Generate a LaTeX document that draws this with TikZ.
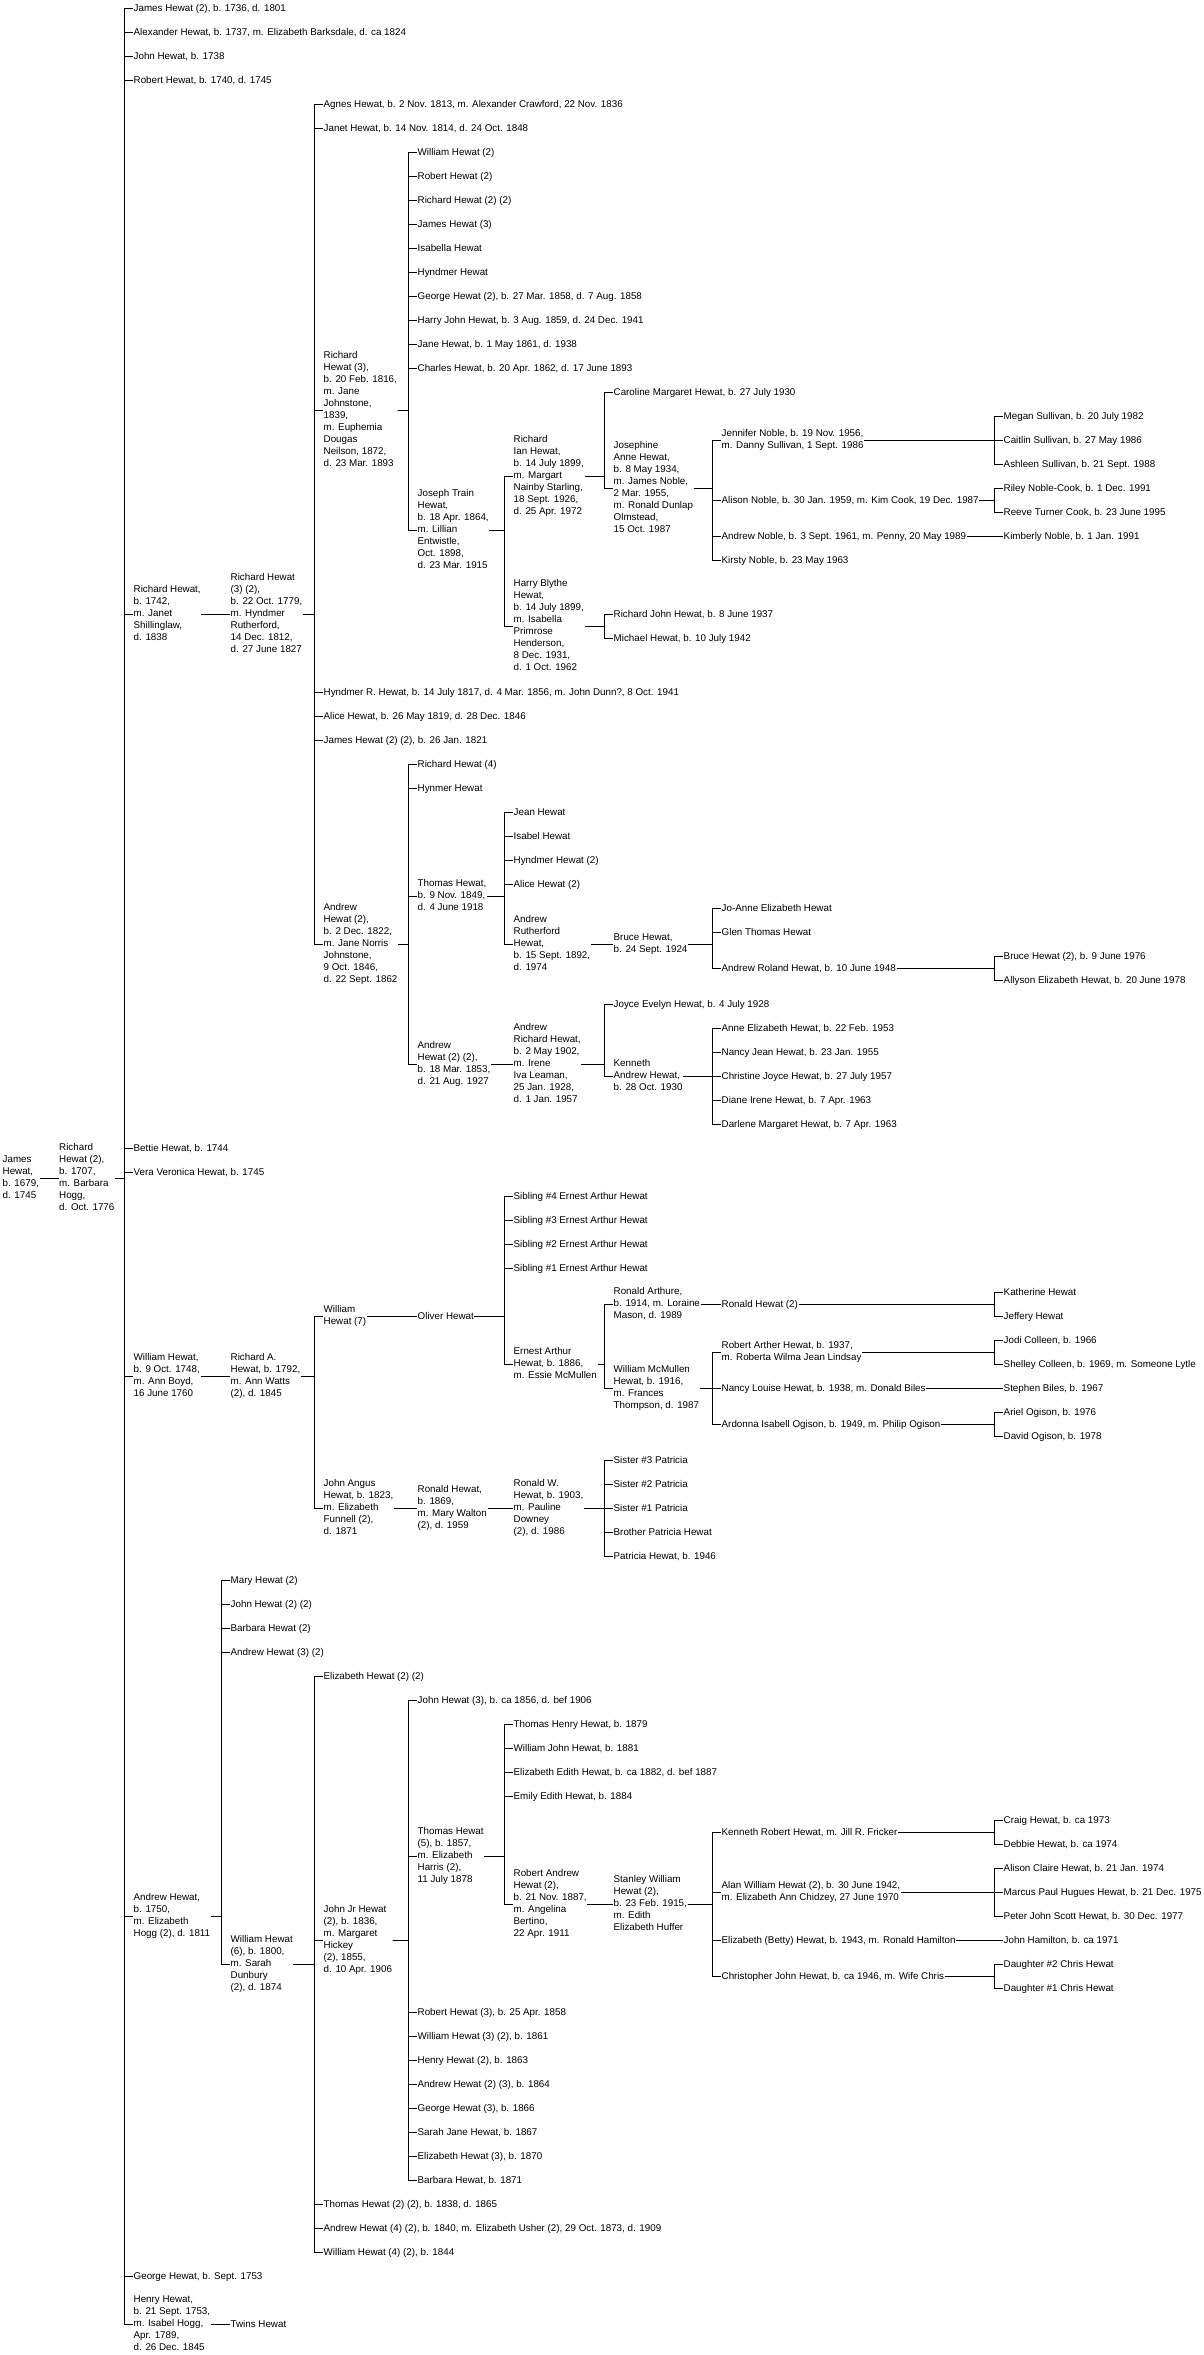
\documentclass[tikz,border=0pt]{standalone}
\usepackage{fontspec}
\setmainfont{Liberation Sans}
\tikzset{
  person/.style={
    anchor=west,
    align=left,
    inner xsep=.5pt,
    inner ysep=0pt,
    font=\fontsize{9.8}{12}\selectfont,
    execute at begin node=\strut,
    execute at end node=\strut
  },
  link/.style={draw=black,line width=1pt}
}
\begin{document}
\begin{tikzpicture}[x=1pt,y=-1pt]
  \useasboundingbox (0,0) rectangle (1203,2355);

  % Founders on the far left.
  \node[person] (james)    at (2,1178.7)    {James\\Hewat,\\b. 1679,\\d. 1745};
  \node[person] (richard2) at (58.5,1178.7) {Richard\\Hewat (2),\\b. 1707,\\m. Barbara\\Hogg,\\d. Oct. 1776};
  \draw[link] (james.east) -| ([xshift=-9pt]richard2.west) -- (richard2.west);

  % Their children.
  \node[person] (jh2)      at (133,8.7)    {James Hewat (2), b. 1736, d. 1801};
  \node[person] (alex)     at (133,32.7)   {Alexander Hewat, b. 1737, m. Elizabeth Barksdale, d. ca 1824};
  \node[person] (johnC)    at (133,56.7)   {John Hewat, b. 1738};
  \node[person] (robC)     at (133,80.7)   {Robert Hewat, b. 1740, d. 1745};
  \node[person] (rich1742) at (133,614.7)  {Richard Hewat,\\b. 1742,\\m. Janet\\Shillinglaw,\\d. 1838};
  \node[person] (bettie)   at (133,1148.7) {Bettie Hewat, b. 1744};
  \node[person] (vera)     at (133,1172.7) {Vera Veronica Hewat, b. 1745};
  \node[person] (will1748) at (133,1376.7) {William Hewat,\\b. 9 Oct. 1748,\\m. Ann Boyd,\\16 June 1760};
  \node[person] (and1750)  at (133,1916.7) {Andrew Hewat,\\b. 1750,\\m. Elizabeth\\Hogg (2), d. 1811};
  \node[person] (georgeC)  at (133,2276.7) {George Hewat, b. Sept. 1753};
  \node[person] (henry)    at (133,2324.7) {Henry Hewat,\\b. 21 Sept. 1753,\\m. Isabel Hogg,\\Apr. 1789,\\d. 26 Dec. 1845};
  \foreach \k in {jh2,alex,johnC,robC,rich1742,bettie,vera,will1748,and1750,georgeC,henry}
    \draw[link] (richard2.east) -| ([xshift=-9pt]\k.west) -- (\k.west);

  \node[person] (twins) at (230,2324.7) {Twins Hewat};
  \draw[link] (henry.east) -| ([xshift=-9pt]twins.west) -- (twins.west);

  % Line of Richard Hewat, b. 1742.
  \node[person] (rich32) at (230,614.7) {Richard Hewat\\(3) (2),\\b. 22 Oct. 1779,\\m. Hyndmer\\Rutherford,\\14 Dec. 1812,\\d. 27 June 1827};
  \draw[link] (rich1742.east) -| ([xshift=-9pt]rich32.west) -- (rich32.west);

  \node[person] (agnes)  at (323,104.7) {Agnes Hewat, b. 2 Nov. 1813, m. Alexander Crawford, 22 Nov. 1836};
  \node[person] (janet)  at (323,128.7) {Janet Hewat, b. 14 Nov. 1814, d. 24 Oct. 1848};
  \node[person] (rich3)  at (323,410.7) {Richard\\Hewat (3),\\b. 20 Feb. 1816,\\m. Jane\\Johnstone,\\1839,\\m. Euphemia\\Dougas\\Neilson, 1872,\\d. 23 Mar. 1893};
  \node[person] (hyndR)  at (323,692.7) {Hyndmer R. Hewat, b. 14 July 1817, d. 4 Mar. 1856, m. John Dunn?, 8 Oct. 1941};
  \node[person] (alice)  at (323,716.7) {Alice Hewat, b. 26 May 1819, d. 28 Dec. 1846};
  \node[person] (jamesE) at (323,740.7) {James Hewat (2) (2), b. 26 Jan. 1821};
  \node[person] (and2)   at (323,944.7) {Andrew\\Hewat (2),\\b. 2 Dec. 1822,\\m. Jane Norris\\Johnstone,\\9 Oct. 1846,\\d. 22 Sept. 1862};
  \foreach \k in {agnes,janet,rich3,hyndR,alice,jamesE,and2}
    \draw[link] (rich32.east) -| ([xshift=-9pt]\k.west) -- (\k.west);

  \node[person] (willF)   at (417,152.7) {William Hewat (2)};
  \node[person] (robF)    at (417,176.7) {Robert Hewat (2)};
  \node[person] (richF)   at (417,200.7) {Richard Hewat (2) (2)};
  \node[person] (jamesF)  at (417,224.7) {James Hewat (3)};
  \node[person] (isab)    at (417,248.7) {Isabella Hewat};
  \node[person] (hyndF)   at (417,272.7) {Hyndmer Hewat};
  \node[person] (georgeF) at (417,296.7) {George Hewat (2), b. 27 Mar. 1858, d. 7 Aug. 1858};
  \node[person] (harryF)  at (417,320.7) {Harry John Hewat, b. 3 Aug. 1859, d. 24 Dec. 1941};
  \node[person] (janeF)   at (417,344.7) {Jane Hewat, b. 1 May 1861, d. 1938};
  \node[person] (charles) at (417,368.7) {Charles Hewat, b. 20 Apr. 1862, d. 17 June 1893};
  \node[person] (joseph)  at (417,530.7) {Joseph Train\\Hewat,\\b. 18 Apr. 1864,\\m. Lillian\\Entwistle,\\Oct. 1898,\\d. 23 Mar. 1915};
  \foreach \k in {willF,robF,richF,jamesF,isab,hyndF,georgeF,harryF,janeF,charles,joseph}
    \draw[link] (rich3.east) -| ([xshift=-9pt]\k.west) -- (\k.west);

  \node[person] (richIan) at (513,476.7) {Richard\\Ian Hewat,\\b. 14 July 1899,\\m. Margart\\Nainby Starling,\\18 Sept. 1926,\\d. 25 Apr. 1972};
  \node[person] (harry)   at (513,626.7) {Harry Blythe\\Hewat,\\b. 14 July 1899,\\m. Isabella\\Primrose\\Henderson,\\8 Dec. 1931,\\d. 1 Oct. 1962};
  \foreach \k in {richIan,harry}
    \draw[link] (joseph.east) -| ([xshift=-9pt]\k.west) -- (\k.west);

  \node[person] (caroline)  at (613,392.7) {Caroline Margaret Hewat, b. 27 July 1930};
  \node[person] (josephine) at (613,488.7) {Josephine\\Anne Hewat,\\b. 8 May 1934,\\m. James Noble,\\2 Mar. 1955,\\m. Ronald Dunlap\\Olmstead,\\15 Oct. 1987};
  \foreach \k in {caroline,josephine}
    \draw[link] (richIan.east) -| ([xshift=-9pt]\k.west) -- (\k.west);

  \node[person] (jennifer) at (721,440.7) {Jennifer Noble, b. 19 Nov. 1956,\\m. Danny Sullivan, 1 Sept. 1986};
  \node[person] (alison)   at (721,500.7) {Alison Noble, b. 30 Jan. 1959, m. Kim Cook, 19 Dec. 1987};
  \node[person] (andNob)   at (721,536.7) {Andrew Noble, b. 3 Sept. 1961, m. Penny, 20 May 1989};
  \node[person] (kirsty)   at (721,560.7) {Kirsty Noble, b. 23 May 1963};
  \foreach \k in {jennifer,alison,andNob,kirsty}
    \draw[link] (josephine.east) -| ([xshift=-9pt]\k.west) -- (\k.west);

  \node[person] (megan)    at (1003,416.7) {Megan Sullivan, b. 20 July 1982};
  \node[person] (caitlin)  at (1003,440.7) {Caitlin Sullivan, b. 27 May 1986};
  \node[person] (ashleen)  at (1003,464.7) {Ashleen Sullivan, b. 21 Sept. 1988};
  \node[person] (riley)    at (1003,488.7) {Riley Noble-Cook, b. 1 Dec. 1991};
  \node[person] (reeve)    at (1003,512.7) {Reeve Turner Cook, b. 23 June 1995};
  \node[person] (kimberly) at (1003,536.7) {Kimberly Noble, b. 1 Jan. 1991};
  \foreach \k in {megan,caitlin,ashleen}
    \draw[link] (jennifer.east) -| ([xshift=-9pt]\k.west) -- (\k.west);
  \foreach \k in {riley,reeve}
    \draw[link] (alison.east) -| ([xshift=-9pt]\k.west) -- (\k.west);
  \draw[link] (andNob.east) -| ([xshift=-9pt]kimberly.west) -- (kimberly.west);

  \node[person] (richJ)   at (613,614.7) {Richard John Hewat, b. 8 June 1937};
  \node[person] (michael) at (613,638.7) {Michael Hewat, b. 10 July 1942};
  \foreach \k in {richJ,michael}
    \draw[link] (harry.east) -| ([xshift=-9pt]\k.west) -- (\k.west);

  % Line of Andrew Hewat (2).
  \node[person] (rich4)  at (417,764.7)  {Richard Hewat (4)};
  \node[person] (hynmer) at (417,788.7)  {Hynmer Hewat};
  \node[person] (thomas) at (417,896.7)  {Thomas Hewat,\\b. 9 Nov. 1849,\\d. 4 June 1918};
  \node[person] (and22)  at (417,1064.7) {Andrew\\Hewat (2) (2),\\b. 18 Mar. 1853,\\d. 21 Aug. 1927};
  \foreach \k in {rich4,hynmer,thomas,and22}
    \draw[link] (and2.east) -| ([xshift=-9pt]\k.west) -- (\k.west);

  \node[person] (jean)    at (513,812.7) {Jean Hewat};
  \node[person] (isabel)  at (513,836.7) {Isabel Hewat};
  \node[person] (hyndG)   at (513,860.7) {Hyndmer Hewat (2)};
  \node[person] (aliceG)  at (513,884.7) {Alice Hewat (2)};
  \node[person] (andRuth) at (513,944.7) {Andrew\\Rutherford\\Hewat,\\b. 15 Sept. 1892,\\d. 1974};
  \foreach \k in {jean,isabel,hyndG,aliceG,andRuth}
    \draw[link] (thomas.east) -| ([xshift=-9pt]\k.west) -- (\k.west);

  \node[person] (bruce) at (613,944.7) {Bruce Hewat,\\b. 24 Sept. 1924};
  \draw[link] (andRuth.east) -| ([xshift=-9pt]bruce.west) -- (bruce.west);

  \node[person] (joanne) at (721,908.7) {Jo-Anne Elizabeth Hewat};
  \node[person] (glen)   at (721,932.7) {Glen Thomas Hewat};
  \node[person] (andRol) at (721,968.7) {Andrew Roland Hewat, b. 10 June 1948};
  \foreach \k in {joanne,glen,andRol}
    \draw[link] (bruce.east) -| ([xshift=-9pt]\k.west) -- (\k.west);

  \node[person] (bruce2)  at (1003,956.7) {Bruce Hewat (2), b. 9 June 1976};
  \node[person] (allyson) at (1003,980.7) {Allyson Elizabeth Hewat, b. 20 June 1978};
  \foreach \k in {bruce2,allyson}
    \draw[link] (andRol.east) -| ([xshift=-9pt]\k.west) -- (\k.west);

  \node[person] (andRich) at (513,1064.7) {Andrew\\Richard Hewat,\\b. 2 May 1902,\\m. Irene\\Iva Leaman,\\25 Jan. 1928,\\d. 1 Jan. 1957};
  \draw[link] (and22.east) -| ([xshift=-9pt]andRich.west) -- (andRich.west);

  \node[person] (joyce)   at (613,1004.7) {Joyce Evelyn Hewat, b. 4 July 1928};
  \node[person] (kenneth) at (613,1076.7) {Kenneth\\Andrew Hewat,\\b. 28 Oct. 1930};
  \foreach \k in {joyce,kenneth}
    \draw[link] (andRich.east) -| ([xshift=-9pt]\k.west) -- (\k.west);

  \node[person] (anneE)     at (721,1028.7) {Anne Elizabeth Hewat, b. 22 Feb. 1953};
  \node[person] (nancyJ)    at (721,1052.7) {Nancy Jean Hewat, b. 23 Jan. 1955};
  \node[person] (christine) at (721,1076.7) {Christine Joyce Hewat, b. 27 July 1957};
  \node[person] (diane)     at (721,1100.7) {Diane Irene Hewat, b. 7 Apr. 1963};
  \node[person] (darlene)   at (721,1124.7) {Darlene Margaret Hewat, b. 7 Apr. 1963};
  \foreach \k in {anneE,nancyJ,christine,diane,darlene}
    \draw[link] (kenneth.east) -| ([xshift=-9pt]\k.west) -- (\k.west);

  % Line of William Hewat, b. 1748.
  \node[person] (richA) at (230,1376.7) {Richard A.\\Hewat, b. 1792,\\m. Ann Watts\\(2), d. 1845};
  \draw[link] (will1748.east) -| ([xshift=-9pt]richA.west) -- (richA.west);

  \node[person] (will7)  at (323,1316.7) {William\\Hewat (7)};
  \node[person] (jangus) at (323,1508.7) {John Angus\\Hewat, b. 1823,\\m. Elizabeth\\Funnell (2),\\d. 1871};
  \foreach \k in {will7,jangus}
    \draw[link] (richA.east) -| ([xshift=-9pt]\k.west) -- (\k.west);

  \node[person] (oliver) at (417,1316.7) {Oliver Hewat};
  \draw[link] (will7.east) -| ([xshift=-9pt]oliver.west) -- (oliver.west);

  \node[person] (sib4)   at (513,1196.7) {Sibling \#4 Ernest Arthur Hewat};
  \node[person] (sib3)   at (513,1220.7) {Sibling \#3 Ernest Arthur Hewat};
  \node[person] (sib2)   at (513,1244.7) {Sibling \#2 Ernest Arthur Hewat};
  \node[person] (sib1)   at (513,1268.7) {Sibling \#1 Ernest Arthur Hewat};
  \node[person] (ernest) at (513,1364.7) {Ernest Arthur\\Hewat, b. 1886,\\m. Essie McMullen};
  \foreach \k in {sib4,sib3,sib2,sib1,ernest}
    \draw[link] (oliver.east) -| ([xshift=-9pt]\k.west) -- (\k.west);

  \node[person] (ronArt) at (613,1304.7) {Ronald Arthure,\\b. 1914, m. Loraine\\Mason, d. 1989};
  \node[person] (willMc) at (613,1388.7) {William McMullen\\Hewat, b. 1916,\\m. Frances\\Thompson, d. 1987};
  \foreach \k in {ronArt,willMc}
    \draw[link] (ernest.east) -| ([xshift=-9pt]\k.west) -- (\k.west);

  \node[person] (ronald2) at (721,1304.7) {Ronald Hewat (2)};
  \draw[link] (ronArt.east) -| ([xshift=-9pt]ronald2.west) -- (ronald2.west);
  \node[person] (katherine) at (1003,1292.7) {Katherine Hewat};
  \node[person] (jeffery)   at (1003,1316.7) {Jeffery Hewat};
  \foreach \k in {katherine,jeffery}
    \draw[link] (ronald2.east) -| ([xshift=-9pt]\k.west) -- (\k.west);

  \node[person] (robArt)  at (721,1352.7) {Robert Arther Hewat, b. 1937,\\m. Roberta Wilma Jean Lindsay};
  \node[person] (nancyL)  at (721,1388.7) {Nancy Louise Hewat, b. 1938, m. Donald Biles};
  \node[person] (ardonna) at (721,1424.7) {Ardonna Isabell Ogison, b. 1949, m. Philip Ogison};
  \foreach \k in {robArt,nancyL,ardonna}
    \draw[link] (willMc.east) -| ([xshift=-9pt]\k.west) -- (\k.west);

  \node[person] (jodi)    at (1003,1340.7) {Jodi Colleen, b. 1966};
  \node[person] (shelley) at (1003,1364.7) {Shelley Colleen, b. 1969, m. Someone Lytle};
  \node[person] (stephen) at (1003,1388.7) {Stephen Biles, b. 1967};
  \node[person] (ariel)   at (1003,1412.7) {Ariel Ogison, b. 1976};
  \node[person] (david)   at (1003,1436.7) {David Ogison, b. 1978};
  \foreach \k in {jodi,shelley}
    \draw[link] (robArt.east) -| ([xshift=-9pt]\k.west) -- (\k.west);
  \draw[link] (nancyL.east) -| ([xshift=-9pt]stephen.west) -- (stephen.west);
  \foreach \k in {ariel,david}
    \draw[link] (ardonna.east) -| ([xshift=-9pt]\k.west) -- (\k.west);

  \node[person] (ronald)  at (417,1508.7) {Ronald Hewat,\\b. 1869,\\m. Mary Walton\\(2), d. 1959};
  \node[person] (ronaldW) at (513,1508.7) {Ronald W.\\Hewat, b. 1903,\\m. Pauline\\Downey\\(2), d. 1986};
  \draw[link] (jangus.east) -| ([xshift=-9pt]ronald.west) -- (ronald.west);
  \draw[link] (ronald.east) -| ([xshift=-9pt]ronaldW.west) -- (ronaldW.west);

  \node[person] (sis3)      at (613,1460.7) {Sister \#3 Patricia};
  \node[person] (sis2)      at (613,1484.7) {Sister \#2 Patricia};
  \node[person] (sis1)      at (613,1508.7) {Sister \#1 Patricia};
  \node[person] (brother)   at (613,1532.7) {Brother Patricia Hewat};
  \node[person] (patricia)  at (613,1556.7) {Patricia Hewat, b. 1946};
  \foreach \k in {sis3,sis2,sis1,brother,patricia}
    \draw[link] (ronaldW.east) -| ([xshift=-9pt]\k.west) -- (\k.west);

  % Line of Andrew Hewat, b. 1750.
  \node[person] (maryD) at (230,1580.7) {Mary Hewat (2)};
  \node[person] (johnD) at (230,1604.7) {John Hewat (2) (2)};
  \node[person] (barbD) at (230,1628.7) {Barbara Hewat (2)};
  \node[person] (andD)  at (230,1652.7) {Andrew Hewat (3) (2)};
  \node[person] (will6) at (230,1964.7) {William Hewat\\(6), b. 1800,\\m. Sarah\\Dunbury\\(2), d. 1874};
  \foreach \k in {maryD,johnD,barbD,andD,will6}
    \draw[link] (and1750.east) -| ([xshift=-9pt]\k.west) -- (\k.west);

  \node[person] (elizE)  at (323,1676.7) {Elizabeth Hewat (2) (2)};
  \node[person] (johnJr) at (323,1940.7) {John Jr Hewat\\(2), b. 1836,\\m. Margaret\\Hickey\\(2), 1855,\\d. 10 Apr. 1906};
  \node[person] (thomE)  at (323,2204.7) {Thomas Hewat (2) (2), b. 1838, d. 1865};
  \node[person] (andE)   at (323,2228.7) {Andrew Hewat (4) (2), b. 1840, m. Elizabeth Usher (2), 29 Oct. 1873, d. 1909};
  \node[person] (willE)  at (323,2252.7) {William Hewat (4) (2), b. 1844};
  \foreach \k in {elizE,johnJr,thomE,andE,willE}
    \draw[link] (will6.east) -| ([xshift=-9pt]\k.west) -- (\k.west);

  \node[person] (johnF)    at (417,1700.7) {John Hewat (3), b. ca 1856, d. bef 1906};
  \node[person] (thom5)    at (417,1856.7) {Thomas Hewat\\(5), b. 1857,\\m. Elizabeth\\Harris (2),\\11 July 1878};
  \node[person] (robF3)    at (417,2012.7) {Robert Hewat (3), b. 25 Apr. 1858};
  \node[person] (willF3)   at (417,2036.7) {William Hewat (3) (2), b. 1861};
  \node[person] (henF)     at (417,2060.7) {Henry Hewat (2), b. 1863};
  \node[person] (andF)     at (417,2084.7) {Andrew Hewat (2) (3), b. 1864};
  \node[person] (georgeF3) at (417,2108.7) {George Hewat (3), b. 1866};
  \node[person] (sarah)    at (417,2132.7) {Sarah Jane Hewat, b. 1867};
  \node[person] (elizF)    at (417,2156.7) {Elizabeth Hewat (3), b. 1870};
  \node[person] (barbF)    at (417,2180.7) {Barbara Hewat, b. 1871};
  \foreach \k in {johnF,thom5,robF3,willF3,henF,andF,georgeF3,sarah,elizF,barbF}
    \draw[link] (johnJr.east) -| ([xshift=-9pt]\k.west) -- (\k.west);

  \node[person] (thomH)  at (513,1724.7) {Thomas Henry Hewat, b. 1879};
  \node[person] (willJ)  at (513,1748.7) {William John Hewat, b. 1881};
  \node[person] (elizEd) at (513,1772.7) {Elizabeth Edith Hewat, b. ca 1882, d. bef 1887};
  \node[person] (emily)  at (513,1796.7) {Emily Edith Hewat, b. 1884};
  \node[person] (robAnd) at (513,1904.7) {Robert Andrew\\Hewat (2),\\b. 21 Nov. 1887,\\m. Angelina\\Bertino,\\22 Apr. 1911};
  \foreach \k in {thomH,willJ,elizEd,emily,robAnd}
    \draw[link] (thom5.east) -| ([xshift=-9pt]\k.west) -- (\k.west);

  \node[person] (stanley) at (613,1904.7) {Stanley William\\Hewat (2),\\b. 23 Feb. 1915,\\m. Edith\\Elizabeth Huffer};
  \draw[link] (robAnd.east) -| ([xshift=-9pt]stanley.west) -- (stanley.west);

  \node[person] (kenRob) at (721,1832.7) {Kenneth Robert Hewat, m. Jill R. Fricker};
  \node[person] (alan)   at (721,1892.7) {Alan William Hewat (2), b. 30 June 1942,\\m. Elizabeth Ann Chidzey, 27 June 1970};
  \node[person] (betty)  at (721,1940.7) {Elizabeth (Betty) Hewat, b. 1943, m. Ronald Hamilton};
  \node[person] (chris)  at (721,1976.7) {Christopher John Hewat, b. ca 1946, m. Wife Chris};
  \foreach \k in {kenRob,alan,betty,chris}
    \draw[link] (stanley.east) -| ([xshift=-9pt]\k.west) -- (\k.west);

  \node[person] (craig)   at (1003,1820.7) {Craig Hewat, b. ca 1973};
  \node[person] (debbie)  at (1003,1844.7) {Debbie Hewat, b. ca 1974};
  \node[person] (alisonC) at (1003,1868.7) {Alison Claire Hewat, b. 21 Jan. 1974};
  \node[person] (marcus)  at (1003,1892.7) {Marcus Paul Hugues Hewat, b. 21 Dec. 1975};
  \node[person] (peter)   at (1003,1916.7) {Peter John Scott Hewat, b. 30 Dec. 1977};
  \node[person] (johnHam) at (1003,1940.7) {John Hamilton, b. ca 1971};
  \node[person] (dau2)    at (1003,1964.7) {Daughter \#2 Chris Hewat};
  \node[person] (dau1)    at (1003,1988.7) {Daughter \#1 Chris Hewat};
  \foreach \k in {craig,debbie}
    \draw[link] (kenRob.east) -| ([xshift=-9pt]\k.west) -- (\k.west);
  \foreach \k in {alisonC,marcus,peter}
    \draw[link] (alan.east) -| ([xshift=-9pt]\k.west) -- (\k.west);
  \draw[link] (betty.east) -| ([xshift=-9pt]johnHam.west) -- (johnHam.west);
  \foreach \k in {dau2,dau1}
    \draw[link] (chris.east) -| ([xshift=-9pt]\k.west) -- (\k.west);
\end{tikzpicture}
\end{document}
